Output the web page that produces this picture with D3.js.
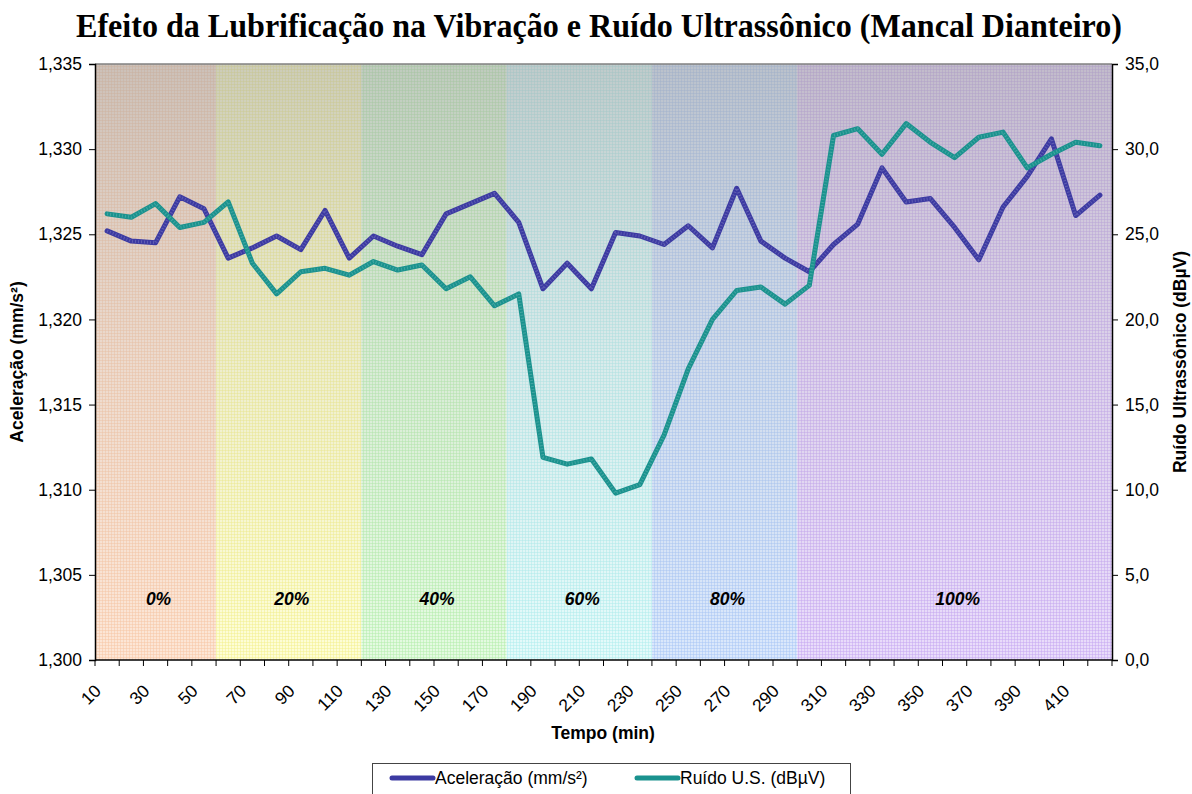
<!DOCTYPE html>
<html>
<head>
<meta charset="utf-8">
<script src="https://cdn.jsdelivr.net/npm/d3@7"></script>
<style>
  html, body { margin: 0; padding: 0; background: #fff; }
  svg { display: block; }
  text { font-family: "Liberation Sans", Arial, sans-serif; fill: #000; }
</style>
</head>
<body>
<svg id="chart" width="1192" height="794"></svg>
<script>
// Time (min) of each reading
const tempo = [10, 20, 30, 40, 50, 60, 70, 80, 90, 100, 110, 120, 130, 140, 150, 160, 170, 180, 190, 200,
               210, 220, 230, 240, 250, 260, 270, 280, 290, 300, 310, 320, 330, 340, 350, 360, 370, 380, 390, 400,
               410, 420];

// Acceleration (mm/s²), left axis
const aceleracao = [1.3252, 1.3246, 1.3245, 1.3272, 1.3265, 1.3236, 1.3242, 1.3249, 1.3241, 1.3264,
                    1.3236, 1.3249, 1.3243, 1.3238, 1.3262, 1.3268, 1.3274, 1.3257, 1.3218, 1.3233,
                    1.3218, 1.3251, 1.3249, 1.3244, 1.3255, 1.3242, 1.3277, 1.3246, 1.3236, 1.3228,
                    1.3244, 1.3256, 1.3289, 1.3269, 1.3271, 1.3254, 1.3235, 1.3266, 1.3284, 1.3306,
                    1.3261, 1.3273];

// Ultrasonic noise (dBµV), right axis
const ruido = [26.2, 26.0, 26.8, 25.4, 25.7, 26.9, 23.3, 21.5, 22.8, 23.0,
               22.6, 23.4, 22.9, 23.2, 21.8, 22.5, 20.8, 21.5, 11.9, 11.5,
               11.8, 9.8, 10.3, 13.2, 17.1, 20.0, 21.7, 21.9, 20.9, 22.0,
               30.8, 31.2, 29.7, 31.5, 30.4, 29.5, 30.7, 31.0, 28.9, 29.7,
               30.4, 30.2];

// Lubrication level and the first reading time of each stage
const niveis = ["0%", "20%", "40%", "60%", "80%", "100%"];
const inicioNivel = [10, 60, 120, 180, 240, 300];

// Axis ticks
const ticksEsq = [1.300, 1.305, 1.310, 1.315, 1.320, 1.325, 1.330, 1.335];
const ticksDir = [0, 5, 10, 15, 20, 25, 30, 35];
const rotulosX = tempo.filter((t, i) => i % 2 === 0);

const serieNomes = ["Aceleração (mm/s²)", "Ruído U.S. (dBµV)"];

// ---- layout ----
const svg = d3.select("#chart");
const L = 95, R = 1112, T = 64, B = 660;
const FS = "17.5px";

const ptBR = d3.formatLocale({ decimal: ",", thousands: ".", grouping: [3], currency: ["R$", ""] });
const fmtL = ptBR.format(".3f");
const fmtR = ptBR.format(".1f");

const x = d3.scaleBand().domain(tempo).range([L, R]).padding(0);
const yL = d3.scaleLinear().domain([1.300, 1.335]).range([B, T]);
const yR = d3.scaleLinear().domain([0, 35]).range([B, T]);
const cx = t => x(t) + x.bandwidth() / 2;

// ---- stage backgrounds ----
const baseCores = ["#fde6d6", "#fefed6", "#e4fbe1", "#e4fbfb", "#dae8fc", "#e9dcfb"];
const gradeCores = ["#f7c6a4", "#f3f08c", "#b2eeaa", "#aeeeee", "#a8c6f6", "#c6a6f2"];

const defs = svg.append("defs");
gradeCores.forEach((c, i) => {
  const p = defs.append("pattern").attr("id", "grade" + i)
    .attr("patternUnits", "userSpaceOnUse").attr("width", 3).attr("height", 3);
  p.append("rect").attr("width", 3).attr("height", 3).attr("fill", baseCores[i]);
  p.append("rect").attr("width", 3).attr("height", 1).attr("fill", c).attr("opacity", 0.5);
  p.append("rect").attr("width", 1).attr("height", 3).attr("fill", c).attr("opacity", 0.5);
});
const sombra = defs.append("linearGradient").attr("id", "sombra")
  .attr("x1", 0).attr("y1", 0).attr("x2", 0).attr("y2", 1);
sombra.append("stop").attr("offset", "0%").attr("stop-color", "#9a9a9a").attr("stop-opacity", 0.5);
sombra.append("stop").attr("offset", "50%").attr("stop-color", "#aaaaaa").attr("stop-opacity", 0.2);
sombra.append("stop").attr("offset", "100%").attr("stop-color", "#b0b0b0").attr("stop-opacity", 0);

const faixas = niveis.map((n, i) => {
  const x0 = x(inicioNivel[i]);
  const x1 = i < niveis.length - 1 ? x(inicioNivel[i + 1]) : R;
  return { nome: n, x0, x1, i };
});

const gFundo = svg.append("g");
gFundo.selectAll("rect.base").data(faixas).join("rect").attr("class", "base")
  .attr("x", d => d.x0).attr("y", T).attr("width", d => d.x1 - d.x0).attr("height", B - T)
  .attr("fill", d => `url(#grade${d.i})`);
gFundo.append("rect").attr("x", L).attr("y", T).attr("width", R - L).attr("height", B - T)
  .attr("fill", "url(#sombra)");

// stage labels
svg.append("g").selectAll("text").data(faixas).join("text")
  .attr("x", d => (d.x0 + d.x1) / 2 + 3)
  .attr("y", 605)
  .attr("text-anchor", "middle")
  .style("font-size", FS).style("font-weight", "bold").style("font-style", "italic")
  .text(d => d.nome);

// ---- frame ----
svg.append("line").attr("x1", L).attr("x2", R).attr("y1", T).attr("y2", T)
  .attr("stroke", "#808080").attr("stroke-width", 1.5);

// left axis
const axL = d3.axisLeft(yL).tickValues(ticksEsq).tickFormat(fmtL).tickSize(6).tickPadding(7);
const gL = svg.append("g").attr("transform", `translate(${L},0)`).call(axL);
gL.select(".domain").attr("stroke", "#000").attr("stroke-width", 1.5);
gL.selectAll(".tick line").attr("stroke", "#000");
gL.selectAll(".tick text").style("font-size", FS).style("font-family", "Liberation Sans, Arial, sans-serif");

// right axis
const axR = d3.axisRight(yR).tickValues(ticksDir).tickFormat(fmtR).tickSize(6).tickPadding(7);
const gR = svg.append("g").attr("transform", `translate(${R},0)`).call(axR);
gR.select(".domain").attr("stroke", "#000").attr("stroke-width", 1.5);
gR.selectAll(".tick line").attr("stroke", "#000");
gR.selectAll(".tick text").style("font-size", FS).style("font-family", "Liberation Sans, Arial, sans-serif");

// bottom axis: ticks on category boundaries, labels on every other category
const gX = svg.append("g");
gX.append("line").attr("x1", L).attr("x2", R).attr("y1", B).attr("y2", B)
  .attr("stroke", "#000").attr("stroke-width", 1.5);
const bordas = tempo.map(t => x(t)).concat([R]);
gX.selectAll("line.tk").data(bordas).join("line").attr("class", "tk")
  .attr("x1", d => d).attr("x2", d => d).attr("y1", B).attr("y2", B + 6)
  .attr("stroke", "#000");
gX.selectAll("text").data(rotulosX).join("text")
  .attr("transform", d => `translate(${cx(d) - 5},${B + 32}) rotate(-45)`)
  .attr("text-anchor", "end")
  .style("font-size", FS)
  .text(d => d);

// axis titles
svg.append("text").attr("x", 603).attr("y", 739).attr("text-anchor", "middle")
  .style("font-size", FS).style("font-weight", "bold").text("Tempo (min)");
svg.append("text").attr("transform", "translate(23,362) rotate(-90)").attr("text-anchor", "middle")
  .style("font-size", FS).style("font-weight", "bold").text("Aceleração (mm/s²)");
svg.append("text").attr("transform", "translate(1186,362) rotate(-90)").attr("text-anchor", "middle")
  .style("font-size", FS).style("font-weight", "bold").text("Ruído Ultrassônico (dBµV)");

// title
svg.append("text").attr("x", 599).attr("y", 37).attr("text-anchor", "middle")
  .attr("textLength", 1046).attr("lengthAdjust", "spacingAndGlyphs")
  .style("font-family", "Liberation Serif, Times New Roman, serif")
  .style("font-size", "34px").style("font-weight", "bold")
  .text("Efeito da Lubrificação na Vibração e Ruído Ultrassônico (Mancal Dianteiro)");

// ---- series ----
const cores = ["#3c3aa2", "#1a928e"];
const linhaL = d3.line().x((d, i) => cx(tempo[i])).y(d => yL(d));
const linhaR = d3.line().x((d, i) => cx(tempo[i])).y(d => yR(d));

function serie(path, cor) {
  const g = svg.append("g");
  g.append("path").attr("d", path).attr("fill", "none").attr("stroke", cor)
    .attr("stroke-width", 5).attr("stroke-linejoin", "round").attr("stroke-linecap", "round");
  g.append("path").attr("d", path).attr("fill", "none").attr("stroke", "#ffffff")
    .attr("stroke-opacity", 0.18).attr("stroke-width", 3).attr("stroke-dasharray", "1 2")
    .attr("stroke-linejoin", "round");
}
serie(linhaL(aceleracao), cores[0]);
serie(linhaR(ruido), cores[1]);

// ---- legend ----
const gLeg = svg.append("g");
gLeg.append("rect").attr("x", 372.5).attr("y", 763.5).attr("width", 478).attr("height", 40)
  .attr("fill", "#fff").attr("stroke", "#444").attr("stroke-width", 1);
const legX = [392, 637];
serieNomes.forEach((n, i) => {
  gLeg.append("line").attr("x1", legX[i]).attr("x2", legX[i] + 41).attr("y1", 778).attr("y2", 778)
    .attr("stroke", cores[i]).attr("stroke-width", 5).attr("stroke-linecap", "round");
  gLeg.append("text").attr("x", legX[i] + 43).attr("y", 784)
    .style("font-size", FS).text(n);
});
</script>
</body>
</html>
